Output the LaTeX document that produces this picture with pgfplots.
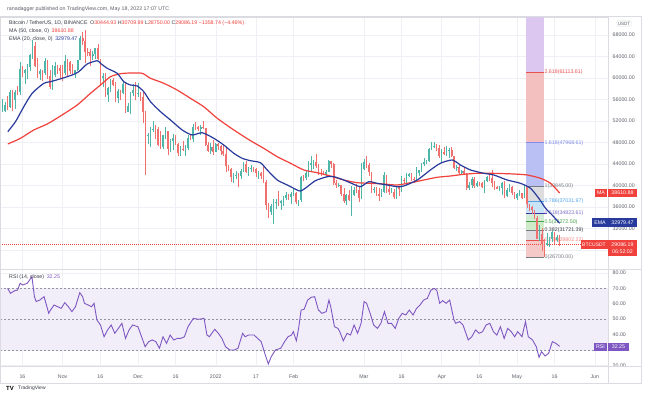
\documentclass[border=0pt]{standalone}
\usepackage{pgfplots}
\pgfplotsset{compat=1.18}
\usepackage{pgfplotstable}
\usepackage{fontspec}
\setmainfont{Liberation Sans}
\definecolor{up}{HTML}{4DB6A8}
\definecolor{dn}{HTML}{F0706D}
\definecolor{maC}{HTML}{F0413C}
\definecolor{emaC}{HTML}{283A9C}
\definecolor{rsiC}{HTML}{7E57C2}
\definecolor{rsiBand}{HTML}{F1EDF9}
\definecolor{txt}{HTML}{5D606B}
\definecolor{dark}{HTML}{3A3D47}
\definecolor{gridC}{HTML}{EEF0F5}
\definecolor{frameC}{HTML}{DADCE2}
\definecolor{z3618}{HTML}{DCC7F0}
\definecolor{z2618}{HTML}{F3BFBF}
\definecolor{z1618}{HTML}{BAC0F3}
\definecolor{z1}{HTML}{DDDDE0}
\definecolor{z786}{HTML}{C9E4F7}
\definecolor{z618}{HTML}{D4ECD6}
\definecolor{z5}{HTML}{CDEBC9}
\definecolor{z382}{HTML}{DEDEE0}
\definecolor{z236}{HTML}{F6C9C9}
\definecolor{fR}{HTML}{E8504E}
\definecolor{fB}{HTML}{7F8BE6}
\definecolor{fG}{HTML}{787B86}
\definecolor{fLB}{HTML}{4FA3E8}
\definecolor{fP}{HTML}{3F33A8}
\definecolor{fGr}{HTML}{43A047}
\newcommand\fs{\fontsize{5.3}{6.4}\selectfont}

\pgfplotstableread{
d o h l c
-9 55315 55332 53357 53785
-8 53785 56100 53600 53951
-7 53951 55490 53661 54949
-6 54949 56561 54080 54659
-5 54659 57839 54415 57471
-4 57471 57680 53879 55996
-3 55996 57777 54167 57367
-2 57367 58532 56818 57347
-1 57347 62933 56850 61672
0 61672 62325 60150 60875
1 60875 61720 58963 61528
2 61528 62695 59844 62009
3 62009 64486 61322 64280
4 64280 67000 63482 66002
5 66002 66639 62000 62193
6 62193 63732 60000 60689
7 60689 61748 59700 61286
8 61286 61500 59510 60852
9 60852 63710 60650 63078
10 63078 63293 59817 60328
11 60328 61496 58000 58413
12 58413 62499 57820 60575
13 60575 62980 60174 62253
14 62253 62359 60673 61859
15 61859 62405 59945 61300
16 61300 62437 59405 60911
17 60911 64270 60624 63219
18 63219 63500 60382 62896
19 62896 63086 60677 61395
20 61395 62595 60721 60937
21 60937 61560 60050 61470
22 61470 63286 61322 63273
23 63273 67789 63273 67525
24 67525 68524 66222 66947
25 66947 69000 62822 64882
26 64882 65600 64100 64774
27 64774 65450 62278 64122
28 64122 64990 63401 64380
29 64380 65550 63576 65519
30 65519 66401 63400 63606
31 63606 63617 58574 60058
32 60058 60840 58373 60345
33 60345 60976 56474 56892
34 56892 58352 55600 58052
35 58052 59846 57354 59707
36 59707 60000 58470 58623
37 58623 59266 55610 56247
38 56247 57875 55317 57541
39 57541 57724 55837 57138
40 57138 59398 57000 58960
41 58960 59150 53500 53726
42 53726 55280 53610 54721
43 54721 57445 53256 57274
44 57274 58865 56666 57776
45 57776 59176 55875 56950
46 56950 59053 56458 57184
47 57184 57375 55777 56480
48 56480 57600 51680 53601
49 53601 53859 42000 49152
50 49152 49699 47727 49396
51 49396 50891 47100 50441
52 50441 51936 50039 50588
53 50588 51200 48600 50471
54 50471 50797 47320 47545
55 47545 50125 46852 47140
56 47140 49485 46751 49389
57 49389 50797 48638 50053
58 50053 50189 45672 46702
59 46702 48700 46290 48343
60 48343 49500 46547 48864
61 48864 49436 47511 47632
62 47632 47995 45456 46131
63 46131 47392 45500 46834
64 46834 48300 46406 46681
65 46681 47537 45558 46914
66 46914 49328 46630 48889
67 48889 49576 48421 48588
68 48588 51375 48050 50838
69 50838 51810 50384 50821
70 50821 51156 50171 50428
71 50428 51280 49412 50809
72 50809 52088 50450 50640
73 50640 50704 47313 47588
74 47588 48119 46201 46444
75 46444 47900 45900 47178
76 47178 48548 45678 46306
77 46306 47954 46208 47686
78 47686 47990 46654 47345
79 47345 47570 45696 46458
80 46458 47505 45517 45897
81 45897 47070 42500 43569
82 43569 43748 42645 43160
83 43160 43200 40610 41558
84 41558 42300 40501 41733
85 41733 42786 41200 41911
86 41911 42248 39650 41821
87 41821 43100 41268 42736
88 42736 44322 42450 43946
89 43946 44500 42311 42592
90 42592 43448 41725 43099
91 43099 43800 42578 43177
92 43177 43478 42581 43113
93 43113 43180 41540 42250
94 42250 42663 41250 42375
95 42375 42559 41138 41744
96 41744 43505 40553 40680
97 40680 41100 35440 36445
98 36445 36835 34008 35071
99 35071 36499 34601 36244
100 36244 37550 32917 36660
101 36660 37545 35701 36958
102 36958 38919 36234 36809
103 36809 37234 35507 37160
104 37160 38000 36155 37717
105 37717 38720 37268 38166
106 38166 38359 37351 37881
107 37881 38744 36633 38466
108 38466 39265 38000 38690
109 38690 38855 36586 36896
110 36896 37387 36250 37311
111 37311 41772 37026 41574
112 41574 41913 40843 41382
113 41382 42656 41116 42380
114 42380 44500 41645 43840
115 43840 45492 42666 44118
116 44118 44799 43117 44338
117 44338 45821 43174 43565
118 43565 43920 42007 42407
119 42407 43000 41748 42244
120 42244 42760 41870 42197
121 42197 42876 41570 42586
122 42586 44667 42428 44575
123 44575 44582 43310 43961
124 43961 44164 40073 40538
125 40538 40959 39450 40030
126 40030 40444 39639 40122
127 40122 40125 38000 38431
128 38431 39494 36800 37069
129 37069 38433 36350 38286
130 38286 39249 37036 37296
131 37296 39843 34322 38328
132 38328 39683 38014 39219
133 39219 40300 38600 39116
134 39116 39855 37000 37700
135 37700 44225 37450 43160
136 43160 44949 42809 44421
137 44421 45400 43334 43892
138 43892 44101 41832 42454
139 42454 42527 38550 39137
140 39137 39694 38550 39400
141 39400 39680 38088 38420
142 38420 39547 37155 37988
143 37988 39362 37867 38730
144 38730 42594 38656 41941
145 41941 42039 38539 39422
146 39422 40236 38223 38729
147 38729 39486 38660 38807
148 38807 39310 37578 37777
149 37777 39947 37555 39671
150 39671 39887 38098 39286
151 39286 41718 38828 41118
152 41118 41478 40500 40917
153 40917 42325 40135 41757
154 41757 42400 41499 42201
155 42201 42296 40911 41262
156 41262 41544 40467 41002
157 41002 43361 40875 42364
158 42364 42893 41751 42882
159 42882 44220 42560 43991
160 43991 45094 43579 44313
161 44313 44792 44072 44511
162 44511 46999 44421 46827
163 46827 48189 46663 47122
164 47122 48096 46950 47434
165 47434 47700 46445 47067
166 47067 47600 45200 45510
167 45510 46720 44200 46283
168 46283 47213 45620 45811
169 45811 47444 45530 46407
170 46407 46890 45118 46580
171 46580 47200 45353 45497
172 45497 45507 43121 43170
173 43170 43900 42727 43444
174 43444 43970 42107 42252
175 42252 42800 42125 42753
176 42753 43410 41868 42158
177 42158 42414 39200 39530
178 39530 40699 39255 40074
179 40074 41561 39588 41147
180 41147 41500 39551 39942
181 39942 40870 39766 40552
182 40552 40709 39991 40378
183 40378 40595 39546 39678
184 39678 41116 38536 40802
185 40802 41760 40571 41500
186 41500 42199 40820 41358
187 41358 42976 39751 40480
188 40480 40795 39178 39709
189 39709 39980 39285 39441
190 39441 39940 38929 39450
191 39450 40616 38200 40426
192 40426 40797 37702 38112
193 38112 39474 37881 39235
194 39235 40372 38881 39742
195 39742 39925 38175 38596
196 38596 38795 37578 37630
197 37630 38675 37386 38468
198 38468 39167 38052 38525
199 38525 38651 37517 37728
200 37728 40023 37670 39690
201 39690 39845 35856 36552
202 36552 36650 35258 36013
203 36013 36146 34785 35472
204 35472 35510 33713 34039
205 34039 34243 30033 30076
206 30076 32658 29730 31017
207 31017 32162 27785 29103
208 29103 30032 26700 29030
209 29030 31083 28751 29287
210 29287 30343 28630 30082
211 30082 31460 29480 31329
212 31329 31329 29087 29874
213 29874 30788 29450 30445
214 30445 30710 28750 29086
}\btc

\tikzset{
 flab/.style={anchor=west, inner sep=0.8bp, font=\fs},
 box/.style={inner sep=0pt, font=\fs, text=white, minimum height=8.5bp},
}
\pgfplotsset{
 tv/.style={
  scale only axis, width=608bp, anchor=north west,
  xmin=-8.96, xmax=233.27,
  axis line style={draw=frameC, line width=0.5bp},
  major tick length=0pt,
  grid=major, major grid style={draw=gridC, line width=0.5bp},
  xtick={0,16,31,46,61,77,93,108,136,151,167,182,197,212,228},
  yticklabel pos=right,
  yticklabel style={anchor=west, xshift=4.5bp, inner sep=0pt, font=\fs, text=txt,
   /pgf/number format/fixed, /pgf/number format/fixed zerofill,
   /pgf/number format/precision=2, /pgf/number format/1000 sep={},
   /pgf/number format/assume math mode=true},
  extra y tick style={grid=major, major grid style={draw=gridC, line width=0.5bp}},
  scaled y ticks=false,
  unbounded coords=discard,
 },
 zone/.style={draw=none, forget plot},
 flev/.style={line width=0.5bp, forget plot},
 wick/.style={draw=none, mark=none, forget plot, error bars/.cd, y dir=plus, y explicit, error mark=none, error bar style={draw=#1, line width=0.55bp}},
 body/.style={draw=none, mark=none, forget plot, error bars/.cd, y dir=plus, y explicit, error mark=none, error bar style={draw=#1, line width=1.6bp}},
}

\begin{document}
\begin{tikzpicture}
\path[use as bounding box, fill=white] (0bp,0bp) rectangle (648bp,-398bp);

\node[anchor=west, inner sep=0, text=txt, font=\fs] at (7bp,-9.5bp) {ranadagger published on TradingView.com, May 18, 2022 17:07 UTC};

\begin{axis}[tv, at={(0bp,-17bp)}, height=252bp, ymin=24473, ymax=71348,
  ytick={32000,36000,40000,44000,48000,52000,56000,60000,64000,68000},
  extra y ticks={28000}, extra y tick labels={},
  xticklabels={}]
% fib zones
\addplot[zone, fill=z3618] coordinates {(200.6,61113.61) (207.6,61113.61) (207.6,80000) (200.6,80000)};
\addplot[zone, fill=z2618] coordinates {(200.6,47968.61) (207.6,47968.61) (207.6,61113.61) (200.6,61113.61)};
\addplot[zone, fill=z1618] coordinates {(200.6,39845) (207.6,39845) (207.6,47968.61) (200.6,47968.61)};
\addplot[zone, fill=z1] coordinates {(200.6,37031.97) (207.6,37031.97) (207.6,39845) (200.6,39845)};
\addplot[zone, fill=z786] coordinates {(200.6,34823.61) (207.6,34823.61) (207.6,37031.97) (200.6,37031.97)};
\addplot[zone, fill=z618] coordinates {(200.6,33272.5) (207.6,33272.5) (207.6,34823.61) (200.6,34823.61)};
\addplot[zone, fill=z5] coordinates {(200.6,31721.39) (207.6,31721.39) (207.6,33272.5) (200.6,33272.5)};
\addplot[zone, fill=z382] coordinates {(200.6,29802.22) (207.6,29802.22) (207.6,31721.39) (200.6,31721.39)};
\addplot[zone, fill=z236] coordinates {(200.6,26700) (207.6,26700) (207.6,29802.22) (200.6,29802.22)};
% fib levels
\addplot[flev, fR] coordinates {(200.6,61113.61) (207.6,61113.61)};
\addplot[flev, fB] coordinates {(200.6,47968.61) (207.6,47968.61)};
\addplot[flev, fG] coordinates {(200.6,39845) (207.6,39845)};
\addplot[flev, fLB] coordinates {(200.6,37031.97) (207.6,37031.97)};
\addplot[flev, fP, line width=0.8bp] coordinates {(200.6,34823.61) (209,34823.61)};
\addplot[flev, fGr] coordinates {(200.6,33272.5) (207.6,33272.5)};
\addplot[flev, fG] coordinates {(200.6,31721.39) (207.6,31721.39)};
\addplot[flev, fR] coordinates {(200.6,29802.22) (207.6,29802.22)};
\addplot[flev, fG] coordinates {(200.6,26700) (207.6,26700)};
\node[flab, text=fR] at (axis cs:207.6,61113.61) {2.618(61113.61)};
\node[flab, text=fB] at (axis cs:207.6,47968.61) {1.618(47968.61)};
\node[flab, text=fG] at (axis cs:207.6,39845) {1(39845.00)};
\node[flab, text=fLB] at (axis cs:207.6,37031.97) {0.786(37031.97)};
\node[flab, text=fP!70] at (axis cs:207.6,34823.61) {0.618(34823.61)};
\node[flab, text=fGr] at (axis cs:207.6,33272.5) {0.5(33272.50)};
\node[flab, text=dark] at (axis cs:207.6,31721.39) {0.382(31721.39)};
\node[flab, text=fR!70] at (axis cs:207.6,29802.22) {0.236(29802.22)};
\node[flab, text=fG] at (axis cs:207.6,26700) {0(26700.00)};
% current price line
\addplot[forget plot, maC, line width=0.5bp, dash pattern=on 1bp off 1bp] coordinates {(-20,29086.19) (240,29086.19)};
% candles
\addplot[wick=up] table[x=d, y=l, y error expr={\thisrow{h}-\thisrow{l}}, restrict expr to domain={\thisrow{c}-\thisrow{o}}{0:1000000}] {\btc};
\addplot[body=up] table[x=d, y=o, y error expr={\thisrow{c}-\thisrow{o}}, restrict expr to domain={\thisrow{c}-\thisrow{o}}{0:1000000}] {\btc};
\addplot[wick=dn] table[x=d, y=l, y error expr={\thisrow{h}-\thisrow{l}}, restrict expr to domain={\thisrow{o}-\thisrow{c}}{0.001:1000000}] {\btc};
\addplot[body=dn] table[x=d, y=c, y error expr={\thisrow{o}-\thisrow{c}}, restrict expr to domain={\thisrow{o}-\thisrow{c}}{0.001:1000000}] {\btc};
% MA 50
\addplot[maC, line width=1.2bp, smooth, tension=0.4] coordinates {(-5.86,47725) (-0.8,48785) (4.5,50329) (9.84,51445) (15.14,52933) (21.8,54979) (27.1,57155) (31.08,58699) (35.06,60243) (39.04,60801) (43.03,60932) (47.69,60876) (51,59946) (56.3,59016) (61.6,57769) (66.9,56225) (72.2,54663) (77.6,52505) (84.2,50329) (90.84,48339) (96.1,46925) (101.5,45362) (106.8,44135) (112.1,42888) (117.4,42386) (122.7,41772) (128.0,41028) (133.3,40526) (138.6,40414) (143.9,40284) (149.3,40098) (154.6,40526) (159.9,41028) (165.2,41531) (170.5,41772) (175.8,42088) (181.2,42275) (186.5,42275) (190.4,42237) (195.7,42144) (201.1,41958) (206.4,41344) (210.4,40414) (214,38610)};
% EMA 20
\addplot[emaC, line width=1.2bp, smooth, tension=0.4] coordinates {(-5.86,50013) (-2.79,51873) (0.52,54663) (3.86,57155) (8.49,59016) (11.16,59313) (15.82,59946) (19.8,60560) (22.43,61173) (25.78,62606) (29.76,63219) (31.08,62736) (33.75,61806) (37.73,60876) (40.36,59313) (43.03,58699) (45.7,58513) (48.33,57453) (51,55593) (54.98,53733) (58.96,52189) (63.63,50329) (67.61,49399) (71.59,49827) (76.22,48785) (80.2,47539) (84.18,45995) (87.53,45065) (90.84,44618) (94.8,44246) (97.5,42888) (101.5,41028) (105.5,40098) (109.4,39168) (110.8,38982) (112.7,39500) (116.7,40900) (121.4,41642) (124.0,41642) (128.0,41028) (132.0,40228) (134.7,39782) (138.0,40712) (141.3,40414) (145.3,40098) (149.3,39782) (151.9,39912) (157.3,41028) (162.5,42888) (166.5,44135) (171.2,44749) (174.5,43818) (178.5,42888) (183.8,42275) (187.8,41958) (193.1,41028) (198.4,40414) (202.4,39484) (205.7,37624) (208.4,35764) (211.0,34518) (214,32979)};
\end{axis}

\begin{axis}[tv, at={(0bp,-269bp)}, height=97bp, ymin=19.48, ymax=82.47,
  ytick={20,40,50,60,70,80},
  extra y ticks={30}, extra y tick labels={},
  xticklabels={16,Nov,16,Dec,16,2022,17,Feb,Mar,16,Apr,16,May,16,Jun},
  xticklabel style={anchor=center, yshift=-11bp, font=\fs, text=txt}]
\addplot[forget plot, fill=rsiBand, draw=none] coordinates {(-20,30) (240,30) (240,70) (-20,70)};
\addplot[forget plot, draw=fG!80, line width=0.5bp, dash pattern=on 2bp off 2bp] coordinates {(-20,70) (240,70)};
\addplot[forget plot, draw=fG!80, line width=0.5bp, dash pattern=on 2bp off 2bp] coordinates {(-20,50) (240,50)};
\addplot[forget plot, draw=fG!80, line width=0.5bp, dash pattern=on 2bp off 2bp] coordinates {(-20,30) (240,30)};
\addplot[rsiC, line width=0.9bp] coordinates {(-5.92,69.9) (-4.78,66.7) (-3.07,68.4) (-1.94,68.8) (-0.94,73.2) (0.06,72.1) (1.91,73.2) (3.76,77.5) (4.75,64.5) (5.46,61.3) (6.89,62.3) (8.59,64.5) (9.73,58.0) (10.45,53.7) (11.16,55.8) (12.58,59.1) (14.0,58.0) (15.42,56.9) (16.85,60.6) (18.27,58.0) (19.69,54.8) (21.12,58.0) (22.82,67.1) (23.96,64.5) (24.67,60.2) (26.1,59.1) (27.52,58.0) (28.5,60.2) (29.65,49.4) (31.07,46.1) (32.5,38.5) (33.92,42.9) (35.34,46.1) (36.77,40.7) (38.19,43.9) (39.61,47.2) (41.04,37.4) (42.46,42.9) (43.88,46.1) (46.0,45.0) (47.44,38.5) (48.86,32.0) (50.28,35.3) (51.71,36.4) (53.13,35.3) (54.55,31.0) (55.98,38.5) (57.4,34.2) (58.82,39.6) (60.25,36.4) (61.67,37.4) (63.09,37.4) (64.51,38.5) (65.94,45.0) (68.07,50.4) (70.2,49.8) (72.34,50.4) (73.48,39.6) (74.47,38.5) (75.9,41.8) (76.61,43.3) (78.03,40.7) (79.45,37.4) (80.88,32.0) (82.58,29.9) (84.43,29.9) (85.86,31.0) (87.71,40.7) (88.7,38.5) (90.12,39.6) (92.26,39.6) (93.68,37.4) (95.1,35.3) (96.53,27.7) (97.95,20.8) (99.09,25.5) (100.8,29.9) (102.9,31.0) (104.4,35.3) (105.8,38.5) (107.2,39.6) (107.9,41.8) (109.1,35.9) (110.0,43.9) (111.0,55.8) (112.2,56.3) (113.6,62.3) (115.0,64.1) (116.4,64.5) (117.9,55.8) (119.3,53.7) (121.0,54.8) (122.1,62.3) (122.8,58.0) (124.3,45.0) (125.7,43.9) (126.4,41.8) (127.8,35.9) (129.3,40.7) (130.7,39.6) (132.1,46.1) (133.5,40.7) (134.9,47.2) (136.1,61.3) (137.1,60.2) (138.5,53.7) (139.9,46.1) (141.4,43.9) (142.8,47.2) (144.2,54.8) (145.6,47.2) (147.0,47.2) (148.5,43.9) (149.9,50.4) (151.3,53.7) (152.7,52.6) (154.1,55.8) (155.6,52.6) (157.0,56.9) (158.4,59.1) (159.8,62.3) (161.3,63.4) (162.7,68.8) (164.1,69.9) (165.1,68.4) (166.2,60.2) (167.4,61.9) (168.8,60.2) (170.2,62.3) (171.9,49.4) (172.6,47.2) (174.1,48.3) (175.5,46.1) (177.6,36.4) (179.0,38.5) (180.5,42.9) (181.9,40.7) (183.3,41.8) (184.7,46.1) (186.2,47.2) (187.6,41.8) (189.0,39.6) (190.4,45.0) (191.9,37.4) (193.3,43.9) (194.7,41.8) (196.1,38.5) (197.3,41.8) (199.0,38.5) (200.4,48.3) (201.5,38.5) (203.2,36.4) (204.7,32.0) (205.8,25.1) (206.8,28.8) (208.2,26.0) (209.6,27.7) (211.1,35.3) (212.5,34.2) (214,32.25)};
\end{axis}

% frame
\draw[frameC, line width=0.5bp] (0bp,-16bp) rectangle (641bp,-383bp);
\draw[frameC, line width=0.5bp] (608bp,-16bp) -- (608bp,-383bp);
\draw[frameC, line width=0.5bp] (0bp,-269bp) -- (641bp,-269bp);
\draw[frameC, line width=0.5bp] (0bp,-366bp) -- (641bp,-366bp);

% legends
\node[anchor=west, inner sep=0, font=\fs, text=dark] at (9bp,-23.5bp) {Bitcoin / TetherUS, 1D, BINANCE\enspace O\textcolor{maC}{30444.93} H\textcolor{maC}{30709.99} L\textcolor{maC}{28750.00} C\textcolor{maC}{29086.19} \textcolor{maC}{−1358.74 (−4.46\%)}};
\node[anchor=west, inner sep=0, font=\fs, text=dark] at (9bp,-31.5bp) {MA (50, close, 0)\enspace\textcolor{maC}{38610.88}};
\node[anchor=west, inner sep=0, font=\fs, text=dark] at (9bp,-39.5bp) {EMA (20, close, 0)\enspace\textcolor{emaC}{32979.47}};
\node[anchor=west, inner sep=0, font=\fs, text=dark] at (9bp,-277bp) {RSI (14, close)\enspace\textcolor{rsiC}{32.25}};

% right labels
\node[draw=frameC, rounded corners=1bp, inner sep=1bp, font=\fontsize{4.6}{5}\selectfont, text=txt] at (624bp,-23.5bp) {USDT};
\node[box, fill=maC, minimum width=12bp] at (601bp,-193bp) {MA};
\node[box, fill=maC, minimum width=29bp] at (622.5bp,-193bp) {38610.88};
\node[box, fill=emaC, minimum width=16bp] at (600bp,-222.5bp) {EMA};
\node[box, fill=emaC, minimum width=29bp] at (622.5bp,-222.5bp) {32979.47};
\node[box, fill=maC, minimum width=27bp, font=\fontsize{5}{6}\selectfont] at (594bp,-244.5bp) {BTCUSDT};
\node[box, fill=maC, minimum width=29bp, minimum height=16bp, align=center] at (622.5bp,-248bp) {29086.19\\06:52:02};
\node[box, fill=rsiC, minimum width=13bp] at (600.5bp,-347bp) {RSI};
\node[box, fill=rsiC, minimum width=21bp] at (618.5bp,-347bp) {32.25};

% logo
\node[anchor=west, inner sep=0, font=\fontsize{6}{7}\selectfont\bfseries, text=black] at (6bp,-388bp) {TV};
\node[anchor=west, inner sep=0, font=\fontsize{5}{6}\selectfont, text=dark] at (18bp,-388bp) {TradingView};
\end{tikzpicture}
\end{document}
